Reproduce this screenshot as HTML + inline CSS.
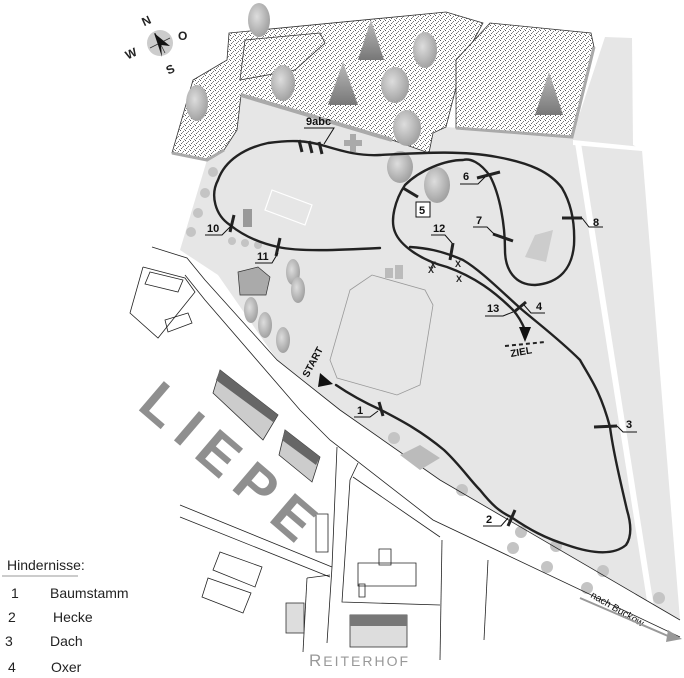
<!DOCTYPE html>
<html><head><meta charset="utf-8"><style>
html,body{margin:0;padding:0;background:#fff;}
svg{display:block;font-family:"Liberation Sans",sans-serif;}
</style></head><body>
<svg width="684" height="678" viewBox="0 0 684 678" xmlns="http://www.w3.org/2000/svg">
<defs>
<pattern id="dots" width="5" height="5" patternUnits="userSpaceOnUse">
<rect width="5" height="5" fill="#fff"/>
<rect x="0" y="0" width="1" height="1" fill="#555"/>
<rect x="3" y="1" width="1" height="1" fill="#777"/>
<rect x="1" y="3" width="1" height="1" fill="#666"/>
<rect x="4" y="4" width="1" height="1" fill="#888"/>
<rect x="2" y="2" width="1" height="1" fill="#999"/>
</pattern>
<linearGradient id="pine" x1="0" y1="0" x2="0" y2="1"><stop offset="0" stop-color="#bbb"/><stop offset="1" stop-color="#777"/></linearGradient>
<radialGradient id="tree" cx="0.4" cy="0.4" r="0.7"><stop offset="0" stop-color="#ddd"/><stop offset="1" stop-color="#999"/></radialGradient>
</defs>

<polygon points="241,95 392,140 429,153 433,133 446,127 572,137 605,37 632,38 633,145 642,150 680,620 440,480 340,410 277,360 218,275 180,250 207,160 224,150 237,130" fill="#e6e6e6"/>
<polygon points="575,143 581,143 656,620 650,620" fill="#fff"/>
<polygon points="573,140 642,147 642,151 573,145" fill="#fff"/>

<polygon points="229,33 446,12 483,23 463,60 446,127 433,133 429,153 392,140 241,95 237,130 224,150 207,160 172,153 193,80 227,60" fill="url(#dots)" stroke="#333" stroke-width="0.8"/>
<polyline points="241,95 392,140" fill="none" stroke="#aaa" stroke-width="4"/>
<polyline points="172,153 207,160 224,150" fill="none" stroke="#aaa" stroke-width="3"/>
<polygon points="245,40 320,33 325,43 295,70 240,80" fill="none" stroke="#333" stroke-width="0.8"/>
<polygon points="490,23 591,33 594,47 572,137 456,128 456,60" fill="url(#dots)" stroke="#333" stroke-width="0.8"/>
<polyline points="594,47 572,137 456,128" fill="none" stroke="#aaa" stroke-width="3"/>

<g>
<ellipse cx="259" cy="20" rx="11" ry="17" fill="url(#tree)"/>
<ellipse cx="197" cy="103" rx="11" ry="18" fill="url(#tree)"/>
<ellipse cx="283" cy="83" rx="12" ry="18" fill="url(#tree)"/>
<ellipse cx="425" cy="50" rx="12" ry="18" fill="url(#tree)"/>
<ellipse cx="395" cy="85" rx="14" ry="18" fill="url(#tree)"/>
<ellipse cx="407" cy="128" rx="14" ry="18" fill="url(#tree)"/>
<ellipse cx="400" cy="167" rx="13" ry="16" fill="url(#tree)"/>
<ellipse cx="437" cy="185" rx="13" ry="18" fill="url(#tree)"/>
<polygon points="371,20 358,60 384,60" fill="url(#pine)"/>
<polygon points="343,62 328,105 358,105" fill="url(#pine)"/>
<polygon points="549,72 535,115 563,115" fill="url(#pine)"/>
</g>
<polygon points="350,134 356,134 356,140 362,140 362,146 356,146 356,152 350,152 350,146 344,146 344,140 350,140" fill="#aaa"/>

<g fill="#c4c4c4">
<circle cx="213" cy="172" r="5"/><circle cx="205" cy="193" r="5"/><circle cx="198" cy="213" r="5"/><circle cx="191" cy="232" r="5"/>
<circle cx="232" cy="241" r="4"/><circle cx="245" cy="243" r="4"/><circle cx="258" cy="245" r="4"/>
<circle cx="394" cy="438" r="6"/><circle cx="462" cy="490" r="6"/><circle cx="521" cy="532" r="6"/><circle cx="513" cy="548" r="6"/><circle cx="556" cy="546" r="6"/><circle cx="547" cy="567" r="6"/><circle cx="603" cy="571" r="6"/><circle cx="587" cy="588" r="6"/><circle cx="659" cy="598" r="6"/>
</g>
<g fill="url(#tree)">
<ellipse cx="293" cy="272" rx="7" ry="13"/><ellipse cx="298" cy="290" rx="7" ry="13"/>
<ellipse cx="251" cy="310" rx="7" ry="13"/><ellipse cx="265" cy="325" rx="7" ry="13"/><ellipse cx="283" cy="340" rx="7" ry="13"/>
</g>

<g fill="none" stroke="#222" stroke-width="0.8">
<polyline points="152,247 187,258 205,280 277,360 340,410 440,480 680,620"/>
<polyline points="185,275 205,300 300,410 330,440 433,520 680,637"/>
<polyline points="143,267 185,278 195,292 158,338 130,313 143,267"/>
<polyline points="180,505 332,567"/><polyline points="180,517 330,577"/>
<polyline points="337,447 332,567 327,643"/>
<polyline points="358,463 350,480 342,602 440,605"/>
<polyline points="353,477 440,537"/>
<polyline points="307,578 330,575"/><polyline points="307,578 303,652"/>
<polyline points="442,540 440,660"/><polyline points="488,560 484,640"/>
<polygon points="220,552 262,567 255,587 213,570"/>
<polygon points="208,578 251,593 243,613 202,597"/>
<polygon points="316,514 328,514 328,552 316,552"/>
<polygon points="358,563 416,563 416,586 358,586"/>
<polygon points="379,549 391,549 391,565 379,565"/>
<polygon points="359,584 365,584 365,597 359,597"/>
<polygon points="150,272 183,280 178,292 145,284"/>
<polygon points="165,320 188,313 192,323 168,332"/>
<polygon points="350,290 372,275 425,290 433,305 420,385 397,395 337,378 330,360" stroke="#999"/>
<polygon points="272,190 312,205 305,225 265,210" stroke="#fff" stroke-width="1.2"/>
</g>

<polygon points="220,370 278,415 263,440 213,393" fill="#ccc" stroke="#333" stroke-width="0.8"/>
<polygon points="220,370 278,415 273,422 216,380" fill="#666"/>
<polygon points="285,430 320,457 312,482 279,455" fill="#ccc" stroke="#333" stroke-width="0.8"/>
<polygon points="285,430 320,457 316,465 282,440" fill="#666"/>
<rect x="350" y="615" width="57" height="32" fill="#ddd" stroke="#333" stroke-width="0.8"/>
<rect x="350" y="615" width="57" height="11" fill="#777"/>
<rect x="286" y="603" width="18" height="30" fill="#ddd" stroke="#333" stroke-width="0.8"/>
<polygon points="238,272 258,267 270,277 266,295 240,295" fill="#aaa" stroke="#333" stroke-width="0.7"/>
<rect x="243" y="209" width="9" height="18" fill="#999"/>
<polygon points="400,455 420,445 440,458 420,470" fill="#bbb"/>
<polygon points="535,235 553,230 546,262 525,257" fill="#ccc"/>
<rect x="385" y="268" width="8" height="10" fill="#bbb"/><rect x="395" y="265" width="8" height="14" fill="#bbb"/>

<g fill="none" stroke="#222" stroke-width="2.4" stroke-linecap="round">
<path d="M336,385 C355,398 370,405 381,410 C400,420 420,430 444,450 C460,465 470,480 480,490 C492,505 500,512 511,517 C530,530 545,538 567,545 C590,553 613,556 626,545 C633,535 630,520 627,510 C620,480 613,450 610,427 C600,390 590,378 580,360 C560,340 540,325 520,308 C500,290 480,270 463,260 C440,250 425,248 410,247"/>
<path d="M380,248 C340,250 300,252 278,247 C255,242 240,233 230,225 C215,215 210,195 218,180 C225,160 245,148 268,143 C290,140 305,140 325,146 C345,152 360,156 380,155 C420,153 460,150 497,157 C530,163 550,172 562,188 C572,205 575,225 574,245 C572,268 560,283 535,285 C515,285 505,270 505,250 C505,225 500,195 490,176 C480,162 470,158 463,160 C445,160 420,170 405,185 C395,200 390,220 395,232 C400,245 420,260 447,267 C475,277 495,292 513,310 C520,318 523,325 525,330"/>
</g>
<polygon points="519,327 531,327 525,342" fill="#111"/>
<polygon points="320,373 333,384 318,387" fill="#111"/>
<line x1="505" y1="346" x2="545" y2="342" stroke="#222" stroke-width="2" stroke-dasharray="4,3"/>

<g stroke="#222" stroke-width="3">
<line x1="379" y1="402" x2="383" y2="416"/>
<line x1="508" y1="526" x2="515" y2="510"/>
<line x1="594" y1="427" x2="617" y2="426"/>
<line x1="514" y1="312" x2="526" y2="302"/>
<line x1="477" y1="178" x2="500" y2="172"/>
<line x1="493" y1="234" x2="513" y2="241"/>
<line x1="562" y1="218" x2="582" y2="218"/>
<line x1="403" y1="188" x2="418" y2="197"/>
<line x1="299" y1="140" x2="302" y2="152"/><line x1="309" y1="141" x2="312" y2="153"/><line x1="319" y1="142" x2="322" y2="154"/>
<line x1="234" y1="215" x2="230" y2="232"/>
<line x1="280" y1="238" x2="276" y2="256"/>
<line x1="453" y1="243" x2="450" y2="260"/>
</g>
<g font-size="9" fill="#222" font-weight="bold"><text x="430" y="268">X</text><text x="428" y="273">X</text><text x="455" y="267">X</text><text x="456" y="282">X</text></g>

<g font-size="11" font-weight="bold" fill="#111">
<text x="357" y="414">1</text><path d="M354,417 h16 l8,-6" fill="none" stroke="#111" stroke-width="1"/>
<text x="486" y="523">2</text><path d="M483,526 h18 l7,-8" fill="none" stroke="#111" stroke-width="1"/>
<text x="626" y="428">3</text><path d="M617,426 l6,6 h14" fill="none" stroke="#111" stroke-width="1"/>
<text x="536" y="310">4</text><path d="M524,305 l7,8 h14" fill="none" stroke="#111" stroke-width="1"/>
<text x="463" y="180">6</text><path d="M460,184 h18 l7,-7" fill="none" stroke="#111" stroke-width="1"/>
<text x="476" y="224">7</text><path d="M473,227 h14 l8,8" fill="none" stroke="#111" stroke-width="1"/>
<text x="593" y="226">8</text><path d="M582,218 l7,9 h14" fill="none" stroke="#111" stroke-width="1"/>
<text x="207" y="232">10</text><path d="M205,235 h17 l10,-10" fill="none" stroke="#111" stroke-width="1"/>
<text x="257" y="260">11</text><path d="M255,263 h17 l6,-10" fill="none" stroke="#111" stroke-width="1"/>
<text x="433" y="232">12</text><path d="M431,235 h14 l7,8" fill="none" stroke="#111" stroke-width="1"/>
<text x="487" y="312">13</text><path d="M485,316 h18 l10,-4" fill="none" stroke="#111" stroke-width="1"/>
<text x="306" y="125">9abc</text><path d="M304,128 h30 l-10,16" fill="none" stroke="#111" stroke-width="1"/>
<rect x="416" y="202" width="14" height="15" fill="#fff" stroke="#111" stroke-width="1"/><text x="419" y="214">5</text>
</g>
<text x="511" y="357" font-size="10" font-weight="bold" fill="#111" transform="rotate(-10 511 357)">ZIEL</text>
<text x="308" y="378" font-size="10" font-weight="bold" fill="#111" transform="rotate(-62 308 378)">START</text>
<text x="590" y="597" font-size="10" fill="#111" transform="rotate(30 590 597)">nach Buckow</text>
<line x1="580" y1="598" x2="668" y2="636" stroke="#999" stroke-width="2"/>
<polygon points="668,630 682,639 666,642" fill="#999"/>

<circle cx="160" cy="43" r="13" fill="#ccc"/>
<line x1="150" y1="48" x2="170" y2="38" stroke="#333" stroke-width="0.8"/>
<line x1="155" y1="33" x2="165" y2="53" stroke="#333" stroke-width="0.8"/>
<polygon points="154,33 170,46 161,45 162,57" fill="#111"/>
<g font-size="12" font-weight="bold" fill="#222">
<text x="142" y="25" transform="rotate(-25 146 21)">N</text>
<text x="125" y="58" transform="rotate(-25 130 53)">W</text>
<text x="178" y="40">O</text>
<text x="166" y="74" transform="rotate(-25 169 69)">S</text>
</g>

<text x="136" y="408" font-size="56" font-weight="bold" fill="#8f8f8f" letter-spacing="12" transform="rotate(40.5 136 408)">LIEPE</text>
<text x="309" y="666" font-size="17" fill="#999" letter-spacing="2">R<tspan font-size="14">EITERHOF</tspan></text>

<g font-size="14" fill="#222">
<text x="7" y="570">Hindernisse:</text>
<line x1="2" y1="576" x2="78" y2="576" stroke="#999" stroke-width="1"/>
<text x="11" y="598">1</text><text x="50" y="598">Baumstamm</text>
<text x="8" y="622">2</text><text x="53" y="622">Hecke</text>
<text x="5" y="646">3</text><text x="50" y="646">Dach</text>
<text x="8" y="672">4</text><text x="51" y="672">Oxer</text>
</g>
</svg>
</body></html>
